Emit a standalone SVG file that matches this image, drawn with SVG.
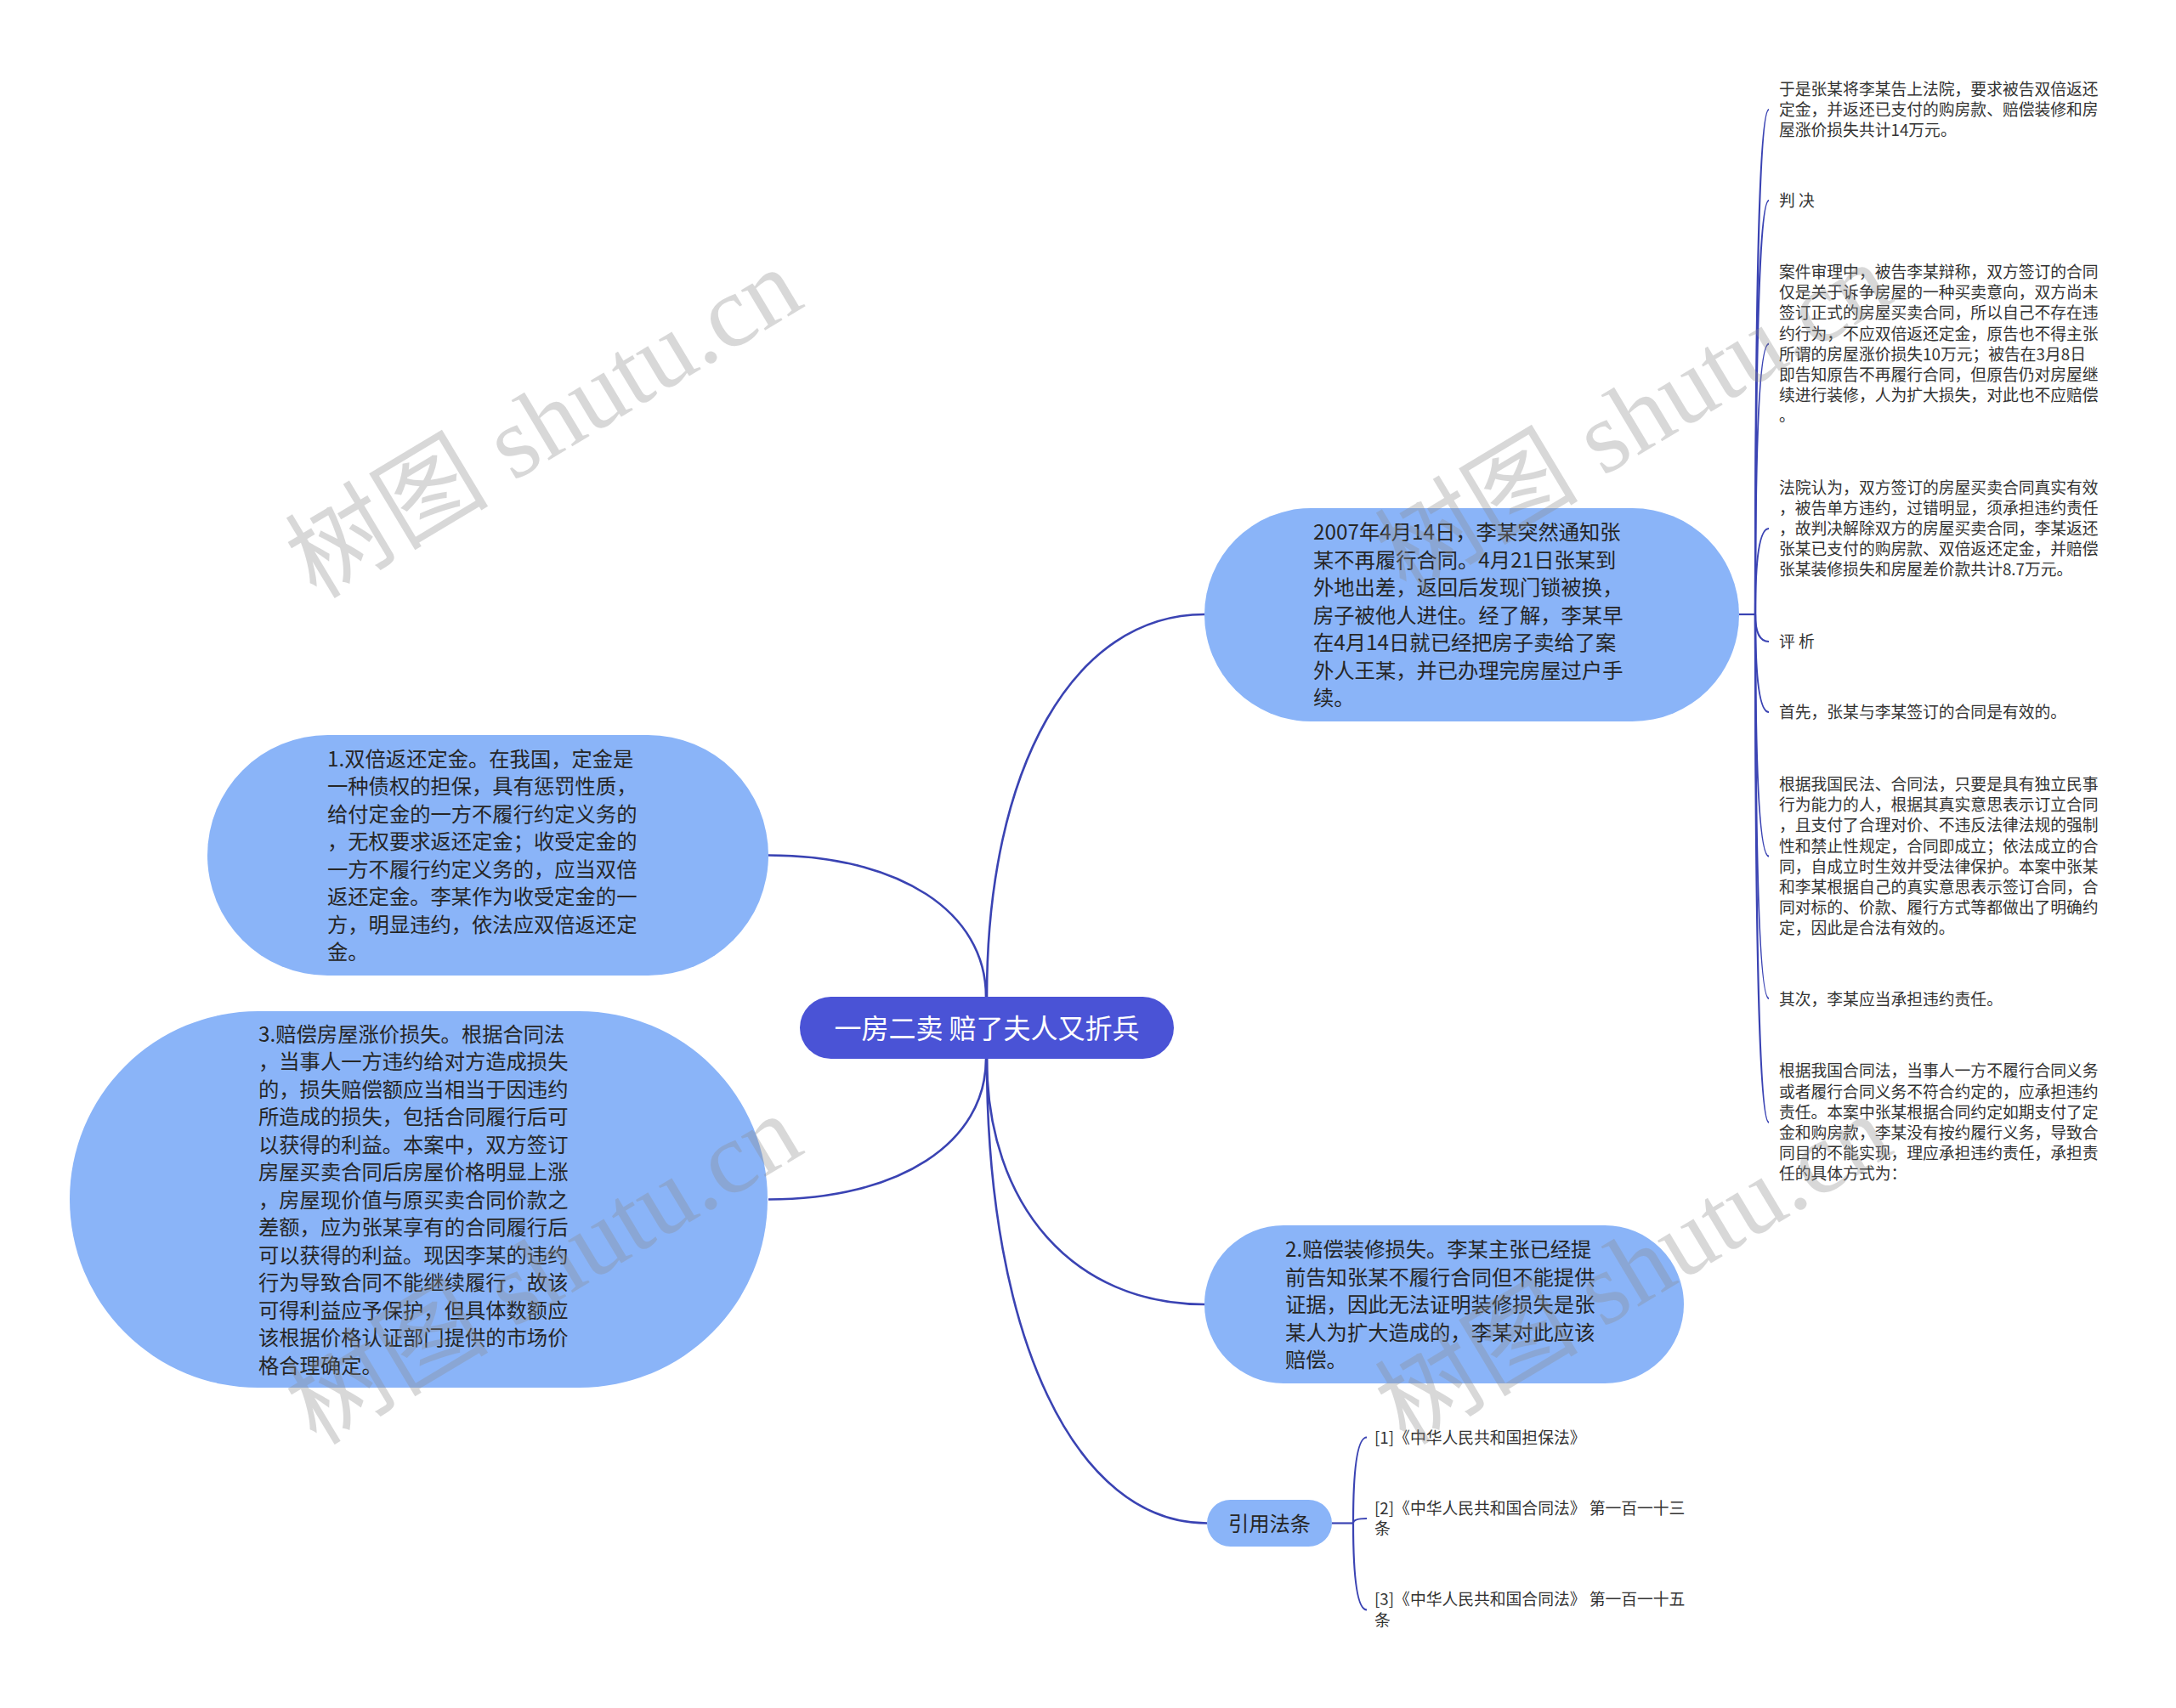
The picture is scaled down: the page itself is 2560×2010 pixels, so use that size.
<svg xmlns="http://www.w3.org/2000/svg" width="2560" height="2010" viewBox="0 0 2560 2010">
<style>
.bg{fill:#ffffff}
.conn{fill:none;stroke:#3A43B3;stroke-width:2.6}
.br{fill:none;stroke:#3A43B3;stroke-width:2.2}
.root{fill:#4A53D6}
.node{fill:#8AB4F8}
.rt{font-family:"Noto Sans CJK SC","Noto Sans",sans-serif;font-size:32px;fill:#ffffff;text-anchor:middle}
.nt{font-family:"Noto Sans CJK SC","Noto Sans",sans-serif;font-size:24.3px;fill:#262626}
.lt{font-family:"Noto Sans CJK SC","Noto Sans",sans-serif;font-size:18.8px;fill:#333333}
.wm{font-family:"Liberation Serif","Noto Sans CJK SC",serif;font-size:120px;fill:#8c8c8c;opacity:0.33}
</style>
<rect class="bg" x="0" y="0" width="2560" height="2010"/>
<g id="connectors">
<path class="conn" d="M1161 1173 C1161 903 1263 723 1417 723"/>
<path class="conn" d="M1160 1173 C1160 1073 1058 1006.5 904 1006.5"/>
<path class="conn" d="M1160 1246 C1160 1345 1058 1411.5 904 1411.5"/>
<path class="conn" d="M1161 1246 C1161 1419 1263 1535 1417 1535"/>
<path class="conn" d="M1161 1246 C1161 1574 1265 1792.5 1420 1792.5"/>
<path class="br" d="M2046 723 H2065"/>
<path class="br" d="M2065 723 Q2065 129 2081 129"/>
<path class="br" d="M2065 723 Q2065 236 2081 236"/>
<path class="br" d="M2065 723 Q2065 404.7 2081 404.7"/>
<path class="br" d="M2065 723 Q2065 622 2081 622"/>
<path class="br" d="M2065 723 Q2065 755 2081 755"/>
<path class="br" d="M2065 723 Q2065 838 2081 838"/>
<path class="br" d="M2065 723 Q2065 1007.7 2081 1007.7"/>
<path class="br" d="M2065 723 Q2065 1175 2081 1175"/>
<path class="br" d="M2065 723 Q2065 1320.8 2081 1320.8"/>
<path class="br" d="M1567 1792.5 H1592"/>
<path class="br" d="M1592 1792.5 Q1592 1691.5 1608 1691.5"/>
<path class="br" d="M1592 1792.5 Q1592 1787 1608 1787"/>
<path class="br" d="M1592 1792.5 Q1592 1894.5 1608 1894.5"/>
</g>
<g id="root">
<rect class="root" x="941" y="1173" width="440" height="73" rx="36.5"/>
<text class="rt" x="1161" y="1221.5">一房二卖 赔了夫人又折兵</text>
</g>
<g id="nodeA">
<rect class="node" x="1417" y="598" width="629" height="251" rx="125.5"/>
<text class="nt">
<tspan x="1545" y="635">2007年4月14日，李某突然通知张</tspan>
<tspan x="1545" y="667.5">某不再履行合同。4月21日张某到</tspan>
<tspan x="1545" y="700">外地出差，返回后发现门锁被换，</tspan>
<tspan x="1545" y="732.5">房子被他人进住。经了解，李某早</tspan>
<tspan x="1545" y="765">在4月14日就已经把房子卖给了案</tspan>
<tspan x="1545" y="797.5">外人王某，并已办理完房屋过户手</tspan>
<tspan x="1545" y="830">续。</tspan>
</text>
</g>
<g id="nodeB">
<rect class="node" x="244" y="865" width="660" height="283" rx="141.5"/>
<text class="nt">
<tspan x="385" y="901.75">1.双倍返还定金。在我国，定金是</tspan>
<tspan x="385" y="934.25">一种债权的担保，具有惩罚性质，</tspan>
<tspan x="385" y="966.75">给付定金的一方不履行约定义务的</tspan>
<tspan x="385" y="999.25">，无权要求返还定金；收受定金的</tspan>
<tspan x="385" y="1031.75">一方不履行约定义务的，应当双倍</tspan>
<tspan x="385" y="1064.25">返还定金。李某作为收受定金的一</tspan>
<tspan x="385" y="1096.75">方，明显违约，依法应双倍返还定</tspan>
<tspan x="385" y="1129.25">金。</tspan>
</text>
</g>
<g id="nodeC">
<rect class="node" x="82" y="1190" width="821" height="443" rx="221.5"/>
<text class="nt">
<tspan x="304" y="1225.5">3.赔偿房屋涨价损失。根据合同法</tspan>
<tspan x="304" y="1258">，当事人一方违约给对方造成损失</tspan>
<tspan x="304" y="1290.5">的，损失赔偿额应当相当于因违约</tspan>
<tspan x="304" y="1323">所造成的损失，包括合同履行后可</tspan>
<tspan x="304" y="1355.5">以获得的利益。本案中，双方签订</tspan>
<tspan x="304" y="1388">房屋买卖合同后房屋价格明显上涨</tspan>
<tspan x="304" y="1420.5">，房屋现价值与原买卖合同价款之</tspan>
<tspan x="304" y="1453">差额，应为张某享有的合同履行后</tspan>
<tspan x="304" y="1485.5">可以获得的利益。现因李某的违约</tspan>
<tspan x="304" y="1518">行为导致合同不能继续履行，故该</tspan>
<tspan x="304" y="1550.5">可得利益应予保护，但具体数额应</tspan>
<tspan x="304" y="1583">该根据价格认证部门提供的市场价</tspan>
<tspan x="304" y="1615.5">格合理确定。</tspan>
</text>
</g>
<g id="nodeD">
<rect class="node" x="1417" y="1442" width="564" height="186" rx="93"/>
<text class="nt">
<tspan x="1512" y="1479">2.赔偿装修损失。李某主张已经提</tspan>
<tspan x="1512" y="1511.5">前告知张某不履行合同但不能提供</tspan>
<tspan x="1512" y="1544">证据，因此无法证明装修损失是张</tspan>
<tspan x="1512" y="1576.5">某人为扩大造成的，李某对此应该</tspan>
<tspan x="1512" y="1609">赔偿。</tspan>
</text>
</g>
<g id="nodeE">
<rect class="node" x="1420" y="1765" width="147" height="55" rx="27.5"/>
<text class="nt" x="1493.5" y="1801.5" text-anchor="middle">引用法条</text>
</g>
<g id="leaf1">
<text class="lt">
<tspan x="2093" y="112">于是张某将李某告上法院，要求被告双倍返还</tspan>
<tspan x="2093" y="136.2">定金，并返还已支付的购房款、赔偿装修和房</tspan>
<tspan x="2093" y="160.4">屋涨价损失共计14万元。</tspan>
</text>
</g>
<g id="leaf2"><text class="lt" x="2093" y="243">判 决</text></g>
<g id="leaf3">
<text class="lt">
<tspan x="2093" y="327">案件审理中，被告李某辩称，双方签订的合同</tspan>
<tspan x="2093" y="351.2">仅是关于诉争房屋的一种买卖意向，双方尚未</tspan>
<tspan x="2093" y="375.4">签订正式的房屋买卖合同，所以自己不存在违</tspan>
<tspan x="2093" y="399.6">约行为，不应双倍返还定金，原告也不得主张</tspan>
<tspan x="2093" y="423.8">所谓的房屋涨价损失10万元；被告在3月8日</tspan>
<tspan x="2093" y="448">即告知原告不再履行合同，但原告仍对房屋继</tspan>
<tspan x="2093" y="472.2">续进行装修，人为扩大损失，对此也不应赔偿</tspan>
<tspan x="2093" y="496.4">。</tspan>
</text>
</g>
<g id="leaf4">
<text class="lt">
<tspan x="2093" y="580.6">法院认为，双方签订的房屋买卖合同真实有效</tspan>
<tspan x="2093" y="604.8">，被告单方违约，过错明显，须承担违约责任</tspan>
<tspan x="2093" y="629">，故判决解除双方的房屋买卖合同，李某返还</tspan>
<tspan x="2093" y="653.2">张某已支付的购房款、双倍返还定金，并赔偿</tspan>
<tspan x="2093" y="677.4">张某装修损失和房屋差价款共计8.7万元。</tspan>
</text>
</g>
<g id="leaf5"><text class="lt" x="2093" y="762">评 析</text></g>
<g id="leaf6"><text class="lt" x="2093" y="845.3">首先，张某与李某签订的合同是有效的。</text></g>
<g id="leaf7">
<text class="lt">
<tspan x="2093" y="930">根据我国民法、合同法，只要是具有独立民事</tspan>
<tspan x="2093" y="954.2">行为能力的人，根据其真实意思表示订立合同</tspan>
<tspan x="2093" y="978.4">，且支付了合理对价、不违反法律法规的强制</tspan>
<tspan x="2093" y="1002.6">性和禁止性规定，合同即成立；依法成立的合</tspan>
<tspan x="2093" y="1026.8">同，自成立时生效并受法律保护。本案中张某</tspan>
<tspan x="2093" y="1051">和李某根据自己的真实意思表示签订合同，合</tspan>
<tspan x="2093" y="1075.2">同对标的、价款、履行方式等都做出了明确约</tspan>
<tspan x="2093" y="1099.4">定，因此是合法有效的。</tspan>
</text>
</g>
<g id="leaf8"><text class="lt" x="2093" y="1183">其次，李某应当承担违约责任。</text></g>
<g id="leaf9">
<text class="lt">
<tspan x="2093" y="1267.3">根据我国合同法，当事人一方不履行合同义务</tspan>
<tspan x="2093" y="1291.5">或者履行合同义务不符合约定的，应承担违约</tspan>
<tspan x="2093" y="1315.7">责任。本案中张某根据合同约定如期支付了定</tspan>
<tspan x="2093" y="1339.9">金和购房款，李某没有按约履行义务，导致合</tspan>
<tspan x="2093" y="1364.1">同目的不能实现，理应承担违约责任，承担责</tspan>
<tspan x="2093" y="1388.3">任的具体方式为：</tspan>
</text>
</g>
<g id="cite1"><text class="lt" x="1617" y="1698.5">[1]《中华人民共和国担保法》</text></g>
<g id="cite2">
<text class="lt">
<tspan x="1617" y="1782">[2]《中华人民共和国合同法》 第一百一十三</tspan>
<tspan x="1617" y="1806.2">条</tspan>
</text>
</g>
<g id="cite3">
<text class="lt">
<tspan x="1617" y="1889.4">[3]《中华人民共和国合同法》 第一百一十五</tspan>
<tspan x="1617" y="1913.6">条</tspan>
</text>
</g>
<g id="watermarks">
<text class="wm" transform="translate(372 706) rotate(-31)">树图 shutu.cn</text>
<text class="wm" transform="translate(1654 700) rotate(-31)">树图 shutu.cn</text>
<text class="wm" transform="translate(372 1702) rotate(-31)">树图 shutu.cn</text>
<text class="wm" transform="translate(1654 1702) rotate(-31)">树图 shutu.cn</text>
</g>
</svg>
